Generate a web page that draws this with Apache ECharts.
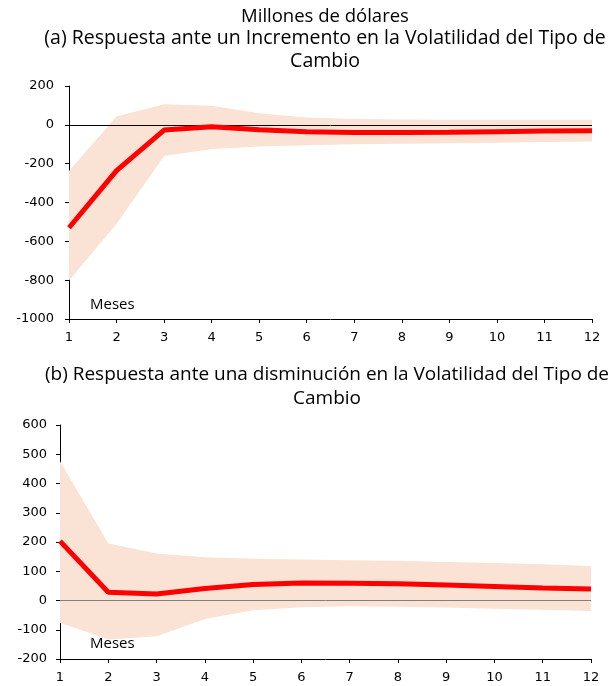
<!DOCTYPE html>
<html><head><meta charset="utf-8">
<script src="https://cdn.jsdelivr.net/npm/echarts@6/dist/echarts.min.js"></script>
<style>html,body{margin:0;padding:0;background:#fff}#c{width:616px;height:686px}</style>
</head><body><div id="c"></div>
<script>
var months = ['1','2','3','4','5','6','7','8','9','10','11','12'];
var aResp  = [-530,-236,-27,-10,-25,-35,-40,-40,-38,-35,-32,-30];
var aUpper = [-238,43,106,98,60,38,30,27,26,26,26,26];
var aLower = [-802,-510,-161,-125,-112,-105,-100,-98,-95,-92,-89,-86];
var bResp  = [203,28,22,41,55,60,59,57,53,48,43,39];
var bUpper = [476,195,161,148,143,140,138,136,132,128,124,118];
var bLower = [-76,-133,-122,-63,-33,-23,-20,-21,-24,-28,-32,-36];
var aTicks = {min:-1000, max:200, interval:200};
var bTicks = {min:-200, max:600, interval:100};

var titleFont = '"Open Sans", sans-serif';
var tickFont = '"DejaVu Sans", sans-serif';
var bandColor = '#FAE2D4';

function diff(u,l){ return u.map(function(v,i){ return v - l[i]; }); }

function xAx(gi){
  return {gridIndex:gi,type:'category',data:months,boundaryGap:false,
    axisLine:{show:true,onZero:false,lineStyle:{color:'#000',width:1}},
    axisTick:{show:true,inside:false,length:4,lineStyle:{color:'#000'}},
    axisLabel:{color:'#000',fontFamily:tickFont,fontSize:13,margin:12},
    splitLine:{show:false}};
}
function yAx(gi,t,m){
  return {gridIndex:gi,type:'value',min:t.min,max:t.max,interval:t.interval,
    axisLine:{show:true,lineStyle:{color:'#000',width:1}},
    axisTick:{show:true,inside:false,length:4,lineStyle:{color:'#000'}},
    axisLabel:{color:'#000',fontFamily:tickFont,fontSize:13,margin:m,
      formatter:function(v){ return String(v); }},
    splitLine:{show:false}};
}
function bandSeries(gi,lower,upper,name){
  return [
    {type:'line',xAxisIndex:gi,yAxisIndex:gi,data:lower,stack:name,stackStrategy:'all',
     symbol:'none',lineStyle:{opacity:0},silent:true,z:1},
    {type:'line',xAxisIndex:gi,yAxisIndex:gi,data:diff(upper,lower),stack:name,stackStrategy:'all',
     symbol:'none',lineStyle:{opacity:0},areaStyle:{color:bandColor,opacity:1},silent:true,z:1}
  ];
}
function respSeries(gi,data,zeroColor){
  return {type:'line',xAxisIndex:gi,yAxisIndex:gi,data:data,symbol:'none',
    lineStyle:{color:'#FF0000',width:5},z:5,silent:true,
    markLine:{silent:true,symbol:'none',label:{show:false},
      lineStyle:{color:zeroColor,width:1,type:'solid'},z:3,
      data:[{yAxis:0}]}};
}

var chart = echarts.init(document.getElementById('c'),null,{renderer:'canvas'});
chart.setOption({
  animation:false,
  backgroundColor:'#fff',
  title:[
    {text:'Millones de dólares',left:320,textAlign:'center',top:2,
      textStyle:{fontFamily:titleFont,fontSize:18.5,fontWeight:'normal',color:'#000'}},
    {text:'(a) Respuesta ante un Incremento en la Volatilidad del Tipo de\nCambio',left:320,textAlign:'center',top:22,
      textStyle:{fontFamily:titleFont,fontSize:19.5,fontWeight:'normal',color:'#000',lineHeight:23}},
    {text:'(b) Respuesta ante una disminución en la Volatilidad del Tipo de\nCambio',left:322,textAlign:'center',top:358,
      textStyle:{fontFamily:titleFont,fontSize:19,fontWeight:'normal',color:'#000',lineHeight:24}}
  ],
  graphic:[
    {type:'text',left:90,top:297,style:{text:'Meses',font:'15px "Open Sans", sans-serif',fill:'#000'}},
    {type:'text',left:90,top:636,style:{text:'Meses',font:'15px "Open Sans", sans-serif',fill:'#000'}}
  ],
  grid:[
    {left:69,right:24,top:86,height:233,containLabel:false},
    {left:60,right:25,top:425,height:234,containLabel:false}
  ],
  xAxis:[xAx(0),xAx(1)],
  yAxis:[yAx(0,aTicks,15),yAx(1,bTicks,13)],
  series:[].concat(
    bandSeries(0,aLower,aUpper,'a'),
    [respSeries(0,aResp,'#000')],
    bandSeries(1,bLower,bUpper,'b'),
    [respSeries(1,bResp,'#808080')]
  )
});
</script></body></html>
